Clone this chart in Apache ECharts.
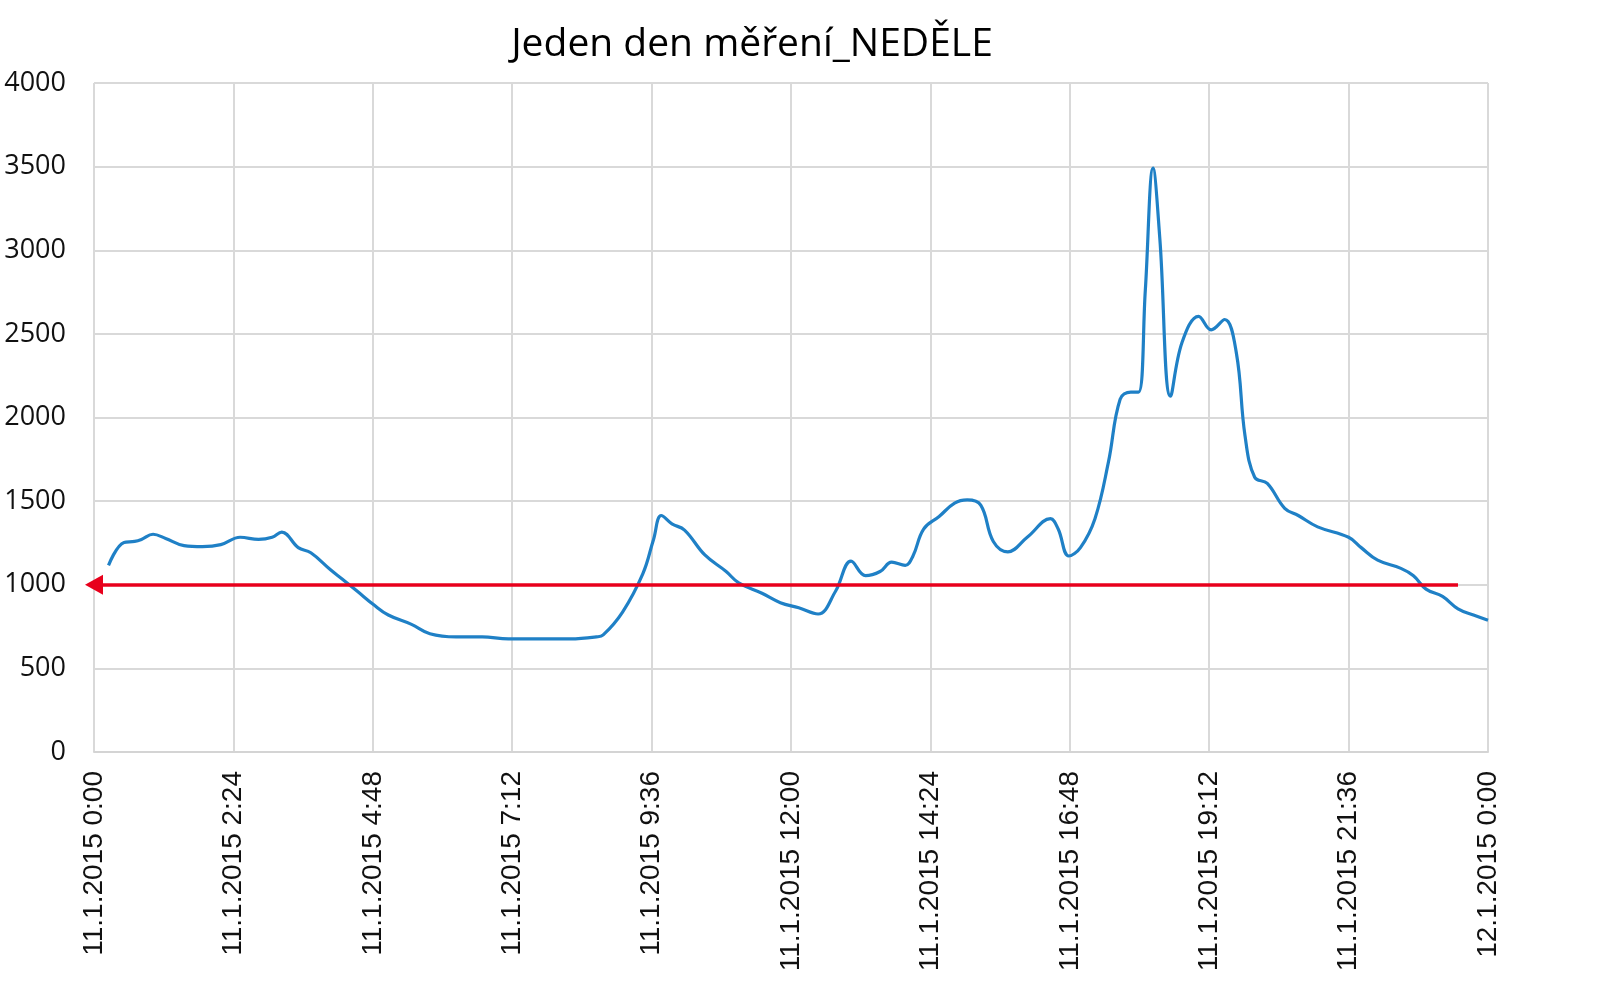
<!DOCTYPE html>
<html>
<head>
<meta charset="utf-8">
<script src="https://cdn.jsdelivr.net/npm/echarts@6/dist/echarts.min.js"></script>
<style>html,body{margin:0;padding:0;background:#fff;}#c{width:1624px;height:1004px;}</style>
</head>
<body>
<div id="c"></div>
<script>
// time in minutes since 11.1.2015 0:00
var minutes = [15, 31, 42, 49, 61, 74, 93, 112, 131, 151, 170, 184, 194, 211, 224, 244, 256, 272, 289, 304, 328, 347, 374, 401, 428, 460, 492, 519, 526, 546, 567, 578, 586, 597, 610, 631, 653, 666, 690, 709, 728, 748, 766, 782, 797, 812, 824, 838, 846, 857, 873, 889, 902, 916, 929, 944, 964, 988, 996, 1007, 1019, 1034, 1048, 1060, 1071, 1079, 1086, 1094, 1101, 1112, 1124, 1141, 1154, 1168, 1180, 1189, 1199, 1212, 1230, 1244, 1264, 1296, 1309, 1326, 1350, 1363, 1376, 1393, 1409, 1425, 1440];
var values  = [1116, 1253, 1259, 1271, 1302, 1277, 1234, 1228, 1240, 1284, 1271, 1284, 1315, 1222, 1191, 1091, 1036, 961, 880, 819, 763, 707, 688, 688, 676, 676, 676, 688, 700, 837, 1067, 1271, 1414, 1364, 1327, 1178, 1079, 1011, 949, 893, 862, 825, 961, 1141, 1054, 1079, 1135, 1116, 1172, 1333, 1408, 1488, 1507, 1476, 1259, 1197, 1284, 1395, 1333, 1172, 1222, 1395, 1736, 2109, 2152, 2152, 2760, 3491, 3070, 2127, 2450, 2605, 2524, 2586, 2388, 1891, 1643, 1606, 1457, 1414, 1346, 1284, 1222, 1147, 1098, 1054, 974, 930, 856, 819, 788];
var limitValue = 1000;
var limitEnd = 1409;
var yTicks = [0, 500, 1000, 1500, 2000, 2500, 3000, 3500, 4000];
var titleText = 'Jeden den měření_NEDĚLE';

var seriesData = minutes.map(function (m, i) { return [m, values[i]]; });

function fmtTime(v) {
  var day = v >= 1440 ? 12 : 11;
  var m = v % 1440;
  var h = Math.floor(m / 60);
  var mm = Math.round(m % 60);
  return day + '.1.2015 ' + h + ':' + (mm < 10 ? '0' + mm : mm);
}

var chart = echarts.init(document.getElementById('c'));
chart.setOption({
  animation: false,
  backgroundColor: '#ffffff',
  title: {
    text: titleText,
    left: 747,
    top: 20,
    textAlign: 'center',
    textStyle: { fontFamily: 'Open Sans', fontSize: 39, fontWeight: 'normal', color: '#000' }
  },
  grid: { left: 94, right: 136, top: 83, bottom: 252, containLabel: false },
  xAxis: {
    type: 'value',
    min: 0, max: 1440, interval: 144,
    axisLine: { show: true, lineStyle: { color: '#d4d4d4', width: 2 } },
    axisTick: { show: false },
    splitLine: { show: true, lineStyle: { color: '#d9d9d9', width: 2 } },
    axisLabel: {
      rotate: 90, margin: 19,
      fontFamily: 'Liberation Sans', fontSize: 28, color: '#111',
      formatter: fmtTime
    }
  },
  yAxis: {
    type: 'value',
    min: yTicks[0], max: yTicks[yTicks.length - 1], interval: 500,
    axisLine: { show: false },
    axisTick: { show: false },
    splitLine: { show: true, lineStyle: { color: '#d9d9d9', width: 2 } },
    axisLabel: {
      margin: 28, fontFamily: 'Open Sans', fontSize: 27, color: '#111',
      formatter: function (v) { return String(v); }
    }
  },
  series: [{
    type: 'line',
    data: seriesData,
    smooth: 0.4,
    showSymbol: false,
    lineStyle: { color: '#1f80c6', width: 3.2 },
    z: 3,
    markLine: {
      silent: true,
      animation: false,
      symbol: ['triangle', 'none'],
      symbolSize: [20, 18],
      label: { show: false },
      lineStyle: { color: '#e8001c', width: 3.5, type: 'solid' },
      data: [[{ coord: [0, limitValue] }, { coord: [limitEnd, limitValue] }]]
    }
  }]
});
</script>
</body>
</html>
